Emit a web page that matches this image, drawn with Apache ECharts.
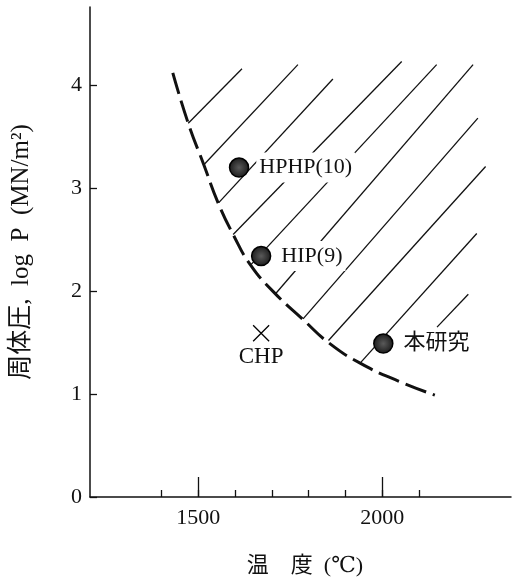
<!DOCTYPE html>
<html><head><meta charset="utf-8">
<script src="https://cdn.jsdelivr.net/npm/echarts@6/dist/echarts.min.js"></script>
<style>html,body{margin:0;padding:0;background:#fff}#c{width:515px;height:584px}</style>
</head><body><div id="c"></div>
<script>
// ---- data ----
const xMinorTicks = [1400, 1500, 1600, 1700, 1800, 1900, 2000, 2100];
const xMajorTicks = [1500, 2000];
const yTicks = [0, 1, 2, 3, 4];

// dashed boundary curve
const curveX = [1431, 1473, 1514, 1555, 1595, 1641, 1704, 1786, 1854, 1940, 2048, 2143];
const curveY = [4.12, 3.63, 3.24, 2.85, 2.55, 2.26, 1.995, 1.72, 1.50, 1.30, 1.12, 0.99];

// hatch segments (start -> end)
const hatchX1 = [1473, 1516, 1556, 1595, 1644, 1709, 1785, 1854, 1940, 2149];
const hatchY1 = [3.63, 3.23, 2.86, 2.55, 2.26, 1.97, 1.73, 1.52, 1.30, 1.65];
const hatchX2 = [1619, 1771, 1866, 2053, 2148, 2247, 2260, 2281, 2257, 2234];
const hatchY2 = [4.16, 4.20, 4.06, 4.23, 4.20, 4.20, 3.68, 3.21, 2.56, 1.97];

// filled points
const pointNames = ['HPHP(10)', 'HIP(9)', '本研究'];
const pointX = [1611, 1671, 2003];
const pointY = [3.20, 2.34, 1.49];

// cross point
const crossName = 'CHP';
const crossX = [1671];
const crossY = [1.59];

// ---- chart ----
const serif = '"Liberation Serif", "DejaVu Serif", "Noto Sans CJK JP", serif';
const ink = '#111';
const chart = echarts.init(document.getElementById('c'), null, {renderer: 'canvas'});

const axisLine = {show: true, lineStyle: {color: ink, width: 1.5}};

chart.setOption({
  animation: false,
  backgroundColor: '#fff',
  grid: {left: 90, right: 4, top: 7, bottom: 87},
  xAxis: [{
    type: 'value', min: 1206, max: 2350,
    axisLine: axisLine,
    axisTick: {show: true, inside: true, length: 7, customValues: xMinorTicks, lineStyle: {color: ink, width: 1.3}},
    axisLabel: {customValues: xMajorTicks, margin: 10, fontSize: 22, fontFamily: serif, color: ink, formatter: v => String(v)},
    splitLine: {show: false},
    name: '温　度  (℃)', nameLocation: 'middle', nameGap: 58,
    nameTextStyle: {fontSize: 22, fontFamily: serif, color: ink, padding: [0, 0, 0, 9]}
  }, {
    type: 'value', min: 1206, max: 2350, position: 'bottom',
    axisLine: {show: false},
    axisTick: {show: true, inside: true, length: 20, customValues: xMajorTicks, lineStyle: {color: ink, width: 1.3}},
    axisLabel: {show: false},
    splitLine: {show: false}
  }],
  yAxis: {
    type: 'value', min: 0, max: 4.76, interval: 1,
    axisLine: axisLine,
    axisTick: {show: true, inside: true, length: 7, customValues: yTicks, lineStyle: {color: ink, width: 1.3}},
    axisLabel: {customValues: yTicks, margin: 8, fontSize: 22, fontFamily: serif, color: ink, formatter: v => String(v)},
    splitLine: {show: false},
    name: '周体圧,  log  P  (MN/m²)', nameLocation: 'middle', nameGap: 56,
    nameTextStyle: {fontSize: 25, fontFamily: serif, color: ink}
  },
  series: [{
    type: 'lines', coordinateSystem: 'cartesian2d', xAxisIndex: 0, yAxisIndex: 0,
    silent: true, z: 2,
    lineStyle: {color: ink, width: 1.3, opacity: 1, curveness: 0},
    data: hatchX1.map((x, i) => ({coords: [[x, hatchY1[i]], [hatchX2[i], hatchY2[i]]]}))
  }, {
    type: 'line', xAxisIndex: 0, z: 3, silent: true,
    smooth: 0.5, symbol: 'none',
    lineStyle: {color: ink, width: 3, type: [22, 7]},
    data: curveX.map((x, i) => [x, curveY[i]])
  }, {
    type: 'scatter', xAxisIndex: 0, z: 6, symbol: 'circle', symbolSize: 19,
    itemStyle: {
      color: {type: 'radial', x: 0.5, y: 0.5, r: 0.5, colorStops: [{offset: 0, color: '#5a5a5a'}, {offset: 1, color: '#1a1a1a'}]},
      borderColor: '#000', borderWidth: 1.5, opacity: 1
    },
    label: {
      show: true, position: 'right', distance: 7, formatter: p => p.name,
      fontSize: 22, fontFamily: serif, color: ink,
      backgroundColor: '#fff', padding: [4, 3]
    },
    data: pointX.map((x, i) => ({name: pointNames[i], value: [x, pointY[i]]}))
  }, {
    type: 'scatter', xAxisIndex: 0, z: 6,
    symbol: 'path://M0 0L10 10M10 0L0 10', symbolSize: 16,
    itemStyle: {color: 'none', borderColor: '#000', borderWidth: 1.3, opacity: 1},
    label: {
      show: true, position: 'bottom', distance: 2, formatter: p => p.name,
      fontSize: 23, fontFamily: serif, color: ink
    },
    data: crossX.map((x, i) => ({name: crossName, value: [x, crossY[i]]}))
  }]
});
</script></body></html>
